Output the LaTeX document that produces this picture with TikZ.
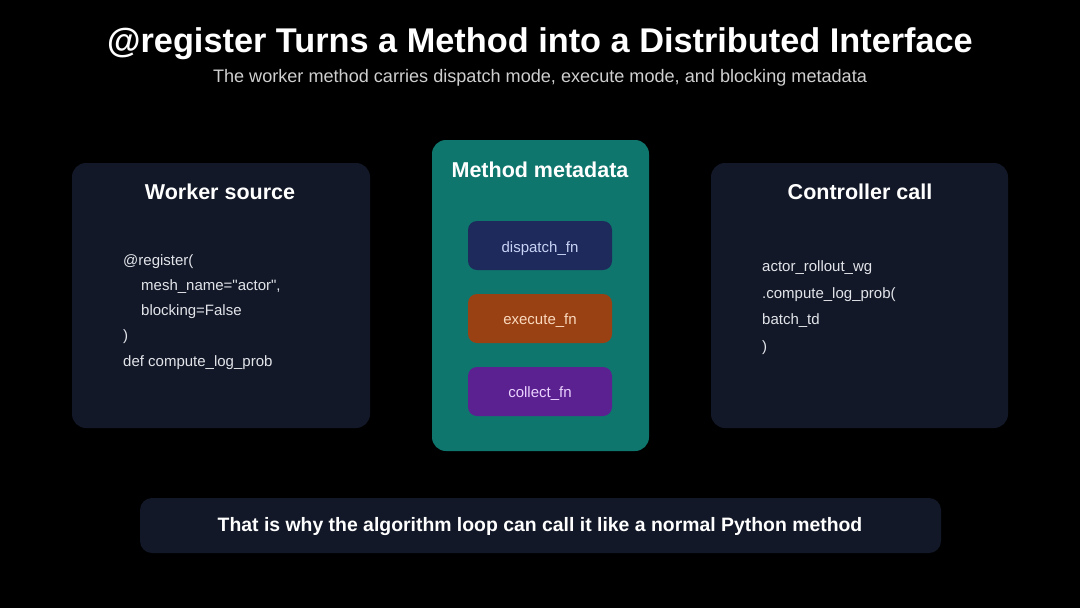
\documentclass[tikz,border=0pt]{standalone}
\usepackage{fontspec}
\setmainfont{Liberation Sans}
\definecolor{bg}{HTML}{000000}
\definecolor{panel}{HTML}{121827}
\definecolor{teal}{HTML}{0F766E}
\definecolor{dnavy}{HTML}{1E2A5C}
\definecolor{dorange}{HTML}{9A4114}
\definecolor{dpurple}{HTML}{5B2190}
\definecolor{subgrey}{HTML}{CFCFCF}
\definecolor{codetxt}{HTML}{E2E4EA}
\definecolor{navytxt}{HTML}{C9D3F5}
\definecolor{orangetxt}{HTML}{FAD9BD}
\definecolor{purpletxt}{HTML}{EBD3FF}
\begin{document}
\begin{tikzpicture}[x=1pt,y=-1pt,
  panelbox/.style={fill=panel,rounded corners=14pt,draw=none},
  metabox/.style={fill=teal,rounded corners=14pt,draw=none},
  fnbox/.style={rounded corners=9pt,draw=none,minimum width=144pt,minimum height=49pt},
  fntext/.style={anchor=base,inner sep=0pt,font=\fontsize{15}{18}\selectfont},
  paneltitle/.style={anchor=base,inner sep=0pt,text=white,font=\fontsize{21.5}{26}\bfseries\selectfont},
  codeline/.style={anchor=base west,text=codetxt,font=\fontsize{15}{18}\selectfont,inner sep=0pt}
]
\fill[bg] (0,0) rectangle (1080,608);
\useasboundingbox (0,0) rectangle (1080,608);
% title
\node[anchor=base,inner sep=0pt,text=white,font=\fontsize{34.3}{40}\bfseries\selectfont] (title) at (540,52) {@register Turns a Method into a Distributed Interface};
\node[anchor=base,inner sep=0pt,text=subgrey,font=\fontsize{18.1}{22}\selectfont] (subtitle) at (540,82.3) {The worker method carries dispatch mode, execute mode, and blocking metadata};
% left panel
\path[panelbox] (72,163) rectangle (370,428);
\node[paneltitle] (lt) at (220,199.5) {Worker source};
\node[codeline] (l1) at (123,265.3) {@register(};
\node[codeline] (l2) at (141,290.8) {mesh\_name=\textquotedbl actor\textquotedbl,};
\node[codeline] (l3) at (141,315.8) {blocking=False};
\node[codeline] (l4) at (123,340.8) {)};
\node[codeline] (l5) at (123,366.3) {def compute\_log\_prob};
% middle panel
\path[metabox] (432,140) rectangle (649,451);
\node[paneltitle] (mt) at (540,177.5) {Method metadata};
\node[fnbox,fill=dnavy] (dispatch) at (540,245.5) {};
\node[fntext,text=navytxt] (dispatcht) at (540,252) {dispatch\_fn};
\node[fnbox,fill=dorange] (execute) at (540,318.5) {};
\node[fntext,text=orangetxt] (executet) at (540,324.6) {execute\_fn};
\node[fnbox,fill=dpurple] (collect) at (540,391.5) {};
\node[fntext,text=purpletxt] (collectt) at (540,397.6) {collect\_fn};
% right panel
\path[panelbox] (711,163) rectangle (1008,428);
\node[paneltitle] (rt) at (860,199.5) {Controller call};
\node[codeline] (r1) at (762,271.3) {actor\_rollout\_wg};
\node[codeline] (r2) at (762,298) {.compute\_log\_prob(};
\node[codeline] (r3) at (762,324.5) {batch\_td};
\node[codeline] (r4) at (762,351.5) {)};
% bottom
\path[panelbox,rounded corners=12pt] (140,498) rectangle (941,553);
\node[anchor=base,inner sep=0pt,text=white,font=\fontsize{19.4}{23}\bfseries\selectfont] (bottom) at (540,531.3) {That is why the algorithm loop can call it like a normal Python method};
\end{tikzpicture}
\end{document}
